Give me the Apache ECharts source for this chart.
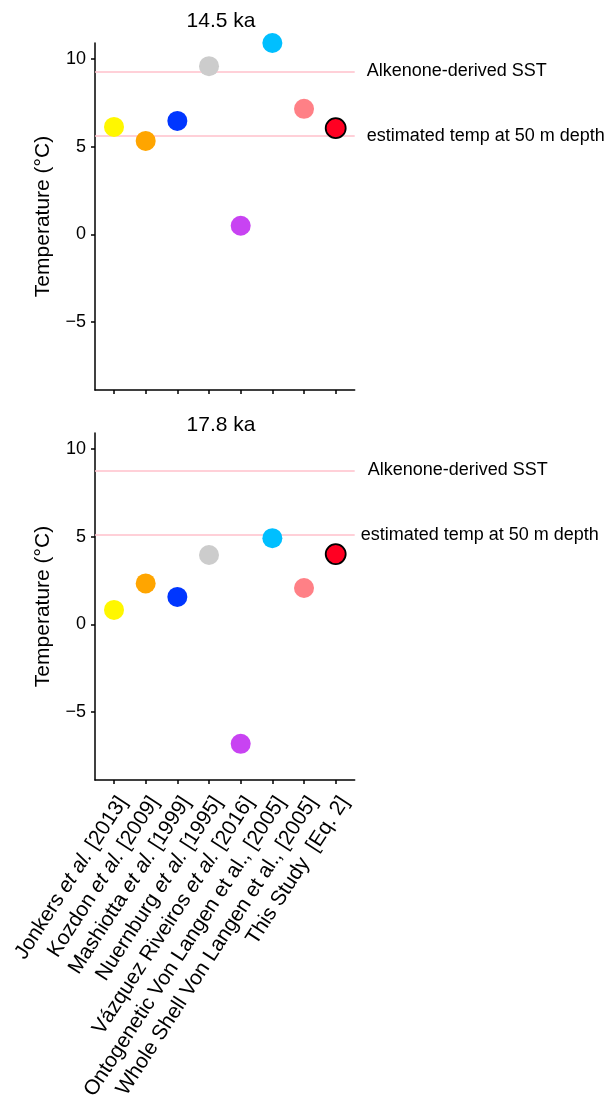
<!DOCTYPE html>
<html>
<head>
<meta charset="utf-8">
<script src="https://cdn.jsdelivr.net/npm/echarts@6/dist/echarts.min.js"></script>
<style>
html,body{margin:0;padding:0;background:#fff;}
#chart{width:611px;height:1103px;}
</style>
</head>
<body>
<div id="chart"></div>
<script>
// ---- data ----
const categories = [
  'Jonkers et al. [2013]',
  'Kozdon et al. [2009]',
  'Mashiotta et al. [1999]',
  'Nuernburg et al. [1995]',
  'Vázquez Riveiros et al. [2016]',
  'Ontogenetic Von Langen et al., [2005]',
  'Whole Shell Von Langen et al., [2005]',
  'This Study  [Eq. 2]'
];
const italicEtAl = [true, true, true, true, true, false, false, false];
const panelTitles = ['14.5 ka', '17.8 ka'];
const temp145 = [6.12, 5.32, 6.46, 9.58, 0.49, 10.90, 7.15, 6.05];
const temp178 = [0.82, 2.33, 1.56, 3.95, -6.81, 4.91, 2.07, 4.00];
const alkenoneSST = [9.28, 8.77];
const temp50m = [5.59, 5.09];
const yTicks = [-5, 0, 5, 10];
const xPositions = [1, 2, 3, 4, 5, 6, 7, 8];

// ---- styling ----
const FONT = '"Liberation Sans", Arial, Helvetica, sans-serif';
const pointColors = ['#FFF700', '#FFA500', '#0036FF', '#CCCCCC', '#C843F2', '#00BFFF', '#FF8086', '#FF0022'];
const lineColor = '#FFC0CB';

function makeData(vals) {
  return vals.map((v, i) => {
    const item = { value: [xPositions[i], v], itemStyle: { color: pointColors[i], opacity: 1 } };
    if (i === vals.length - 1) {
      item.itemStyle.borderColor = '#000';
      item.itemStyle.borderWidth = 1.8;
    }
    return item;
  });
}

function labelFor(v) {
  const i = xPositions.indexOf(v);
  if (i < 0) return '';
  const s = categories[i];
  if (italicEtAl[i]) return s.replace('et al.', '{i|et al.}');
  return s;
}

const grids = [
  { left: 95, right: 256.3, top: 43, height: 347 },
  { left: 95, right: 256.3, top: 433, height: 347 }
];

function xAxisFor(idx, showLabels) {
  return {
    type: 'value', gridIndex: idx, min: 0.4, max: 8.6,
    splitLine: { show: false },
    axisLine: { show: true, onZero: false, lineStyle: { color: '#000', width: 1.5 } },
    axisTick: { show: true, length: 4, customValues: xPositions, lineStyle: { color: '#000', width: 1.5 } },
    axisLabel: showLabels ? {
      show: true,
      customValues: xPositions,
      rotate: 57,
      align: 'right',
      verticalAlign: 'top',
      margin: 13,
      color: '#000',
      fontSize: 21,
      fontFamily: FONT,
      formatter: labelFor,
      rich: { i: { fontStyle: 'italic', fontSize: 21, fontFamily: FONT, color: '#000' } }
    } : { show: false }
  };
}

function yAxisFor(idx) {
  return {
    type: 'value', gridIndex: idx, min: -8.87, max: 10.9,
    splitLine: { show: false },
    axisLine: { show: true, onZero: false, lineStyle: { color: '#000', width: 1.5 } },
    axisTick: { show: true, length: 4, customValues: yTicks, lineStyle: { color: '#000', width: 1.5 } },
    axisLabel: {
      customValues: yTicks, margin: 9, color: '#000', fontSize: 18, fontFamily: FONT,
      formatter: v => String(v).replace('-', '\u2212')
    },
    name: 'Temperature (°C)',
    nameLocation: 'middle',
    nameGap: 41,
    nameTextStyle: { color: '#000', fontSize: 21, fontFamily: FONT }
  };
}

function seriesFor(idx, vals, pads, dists) {
  return {
    type: 'scatter', xAxisIndex: idx, yAxisIndex: idx, z: 3,
    symbol: 'circle', symbolSize: 20,
    itemStyle: { opacity: 1 },
    emphasis: { disabled: true },
    data: makeData(vals),
    markLine: {
      z: 1, silent: true, symbol: 'none', animation: false,
      lineStyle: { color: lineColor, width: 1.6, type: 'solid' },
      label: { show: true, position: 'end', color: '#000', fontSize: 18, fontFamily: FONT },
      data: [
        { yAxis: alkenoneSST[idx], label: { formatter: 'Alkenone-derived SST', distance: dists[0], padding: pads[0] } },
        { yAxis: temp50m[idx], label: { formatter: 'estimated temp at 50 m depth', distance: dists[1], padding: pads[1] } }
      ]
    }
  };
}

const chart = echarts.init(document.getElementById('chart'), null, { renderer: 'canvas' });
chart.setOption({
  animation: false,
  backgroundColor: '#fff',
  textStyle: { fontFamily: FONT },
  grid: grids.map(g => Object.assign({ outerBoundsMode: 'none', containLabel: false }, g)),
  xAxis: [xAxisFor(0, false), xAxisFor(1, true)],
  yAxis: [yAxisFor(0), yAxisFor(1)],
  graphic: [
    { type: 'text', x: 221, y: 21, style: { text: panelTitles[0], fill: '#000', font: '21px ' + FONT, align: 'center', verticalAlign: 'middle', textAlign: 'center', textVerticalAlign: 'middle' } },
    { type: 'text', x: 221, y: 425.5, style: { text: panelTitles[1], fill: '#000', font: '21px ' + FONT, align: 'center', verticalAlign: 'middle', textAlign: 'center', textVerticalAlign: 'middle' } }
  ],
  series: [
    seriesFor(0, temp145, [[3, 0, 0, 0], [0, 0, 9, 0]], [12, 12]),
    seriesFor(1, temp178, [[6, 0, 0, 0], [0, 0, 7, 0]], [13, 6])
  ]
});
</script>
</body>
</html>
